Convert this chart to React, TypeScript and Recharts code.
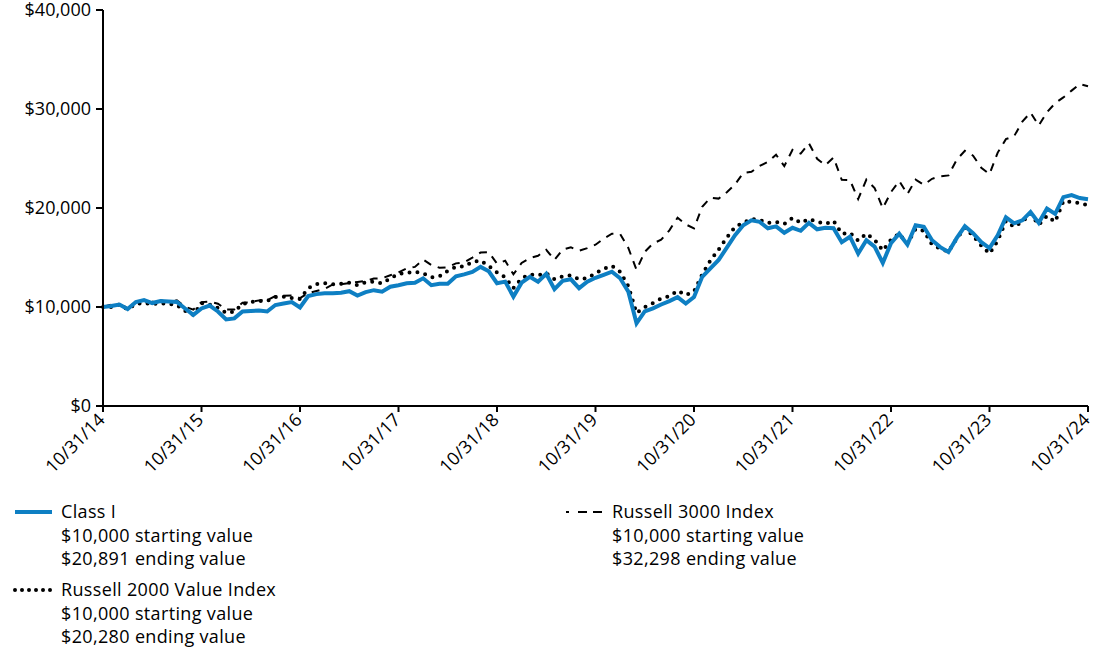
import React from "react";
import { LineChart, Line, XAxis, YAxis } from "recharts";

const tickLabels = ["10/31/14", "10/31/15", "10/31/16", "10/31/17", "10/31/18", "10/31/19", "10/31/20", "10/31/21", "10/31/22", "10/31/23", "10/31/24"];
const yTicks = [0, 10000, 20000, 30000, 40000];

const classI = [
  10000, 10100, 10250, 9800, 10500, 10700, 10400, 10600, 10550, 10500,
  9850, 9200, 9850, 10150, 9550, 8750, 8850, 9550, 9600, 9650,
  9550, 10200, 10350, 10500, 9950, 11100, 11300, 11400, 11400, 11450,
  11600, 11150, 11500, 11700, 11550, 12050, 12200, 12400, 12450, 12900,
  12200, 12350, 12350, 13100, 13300, 13550, 14050, 13600, 12400, 12560,
  11050, 12450, 13050, 12560, 13350, 11800, 12650, 12800, 11900, 12550,
  12950, 13250, 13570, 12900, 11550, 8350, 9550, 9870, 10250, 10600,
  11000, 10350, 11000, 13050, 13900, 14750, 16000, 17250, 18250, 18750,
  18600, 17950, 18150, 17500, 18000, 17700, 18500, 17850, 18000, 17950,
  16550, 17100, 15400, 16750, 16100, 14450, 16450, 17400, 16300, 18250,
  18100, 16750, 16050, 15550, 16950, 18150, 17450, 16550, 15950, 17250,
  19050, 18450, 18750, 19600, 18500, 19950, 19400, 21100, 21300, 21000,
  20891,
];

const russell2000Value = [
  10000, 10000, 10250, 9750, 10300, 10400, 10300, 10400, 10300, 10200,
  9600, 9200, 10400, 10250, 9900, 9400, 9550, 10300, 10500, 10600,
  10600, 11000, 11050, 10900, 10800, 11900, 12300, 12400, 12300, 12350,
  12450, 12200, 12500, 12550, 12400, 12900, 13350, 13450, 13550, 13400,
  13000, 13100, 13650, 14050, 14100, 14550, 14700, 14150, 13500, 13000,
  11900, 12900, 13300, 13200, 13400, 12800, 13100, 13200, 12800, 12900,
  13400, 13850, 14150, 13550, 12100, 9400, 10000, 10400, 10850, 11100,
  11650, 11200, 11550, 13300, 14700, 15800, 17000, 18100, 18500, 18900,
  18800, 18500, 18600, 18400, 19000, 18500, 18900, 18600, 18400, 18700,
  17400, 17500, 16700, 17400, 16800, 15700, 16800, 17400, 16400, 17900,
  17700, 16300, 15900, 15600, 16900, 18000, 17200, 16200, 15400, 16700,
  18700, 18100, 18600, 19400, 18300, 19200, 18600, 20700, 20600, 20500,
  20280,
];

const russell3000 = [
  10000, 10234, 10230, 9940, 10511, 10506, 10543, 10685, 10499, 10672,
  10027, 9731, 10495, 10554, 10337, 9754, 9749, 10427, 10484, 10668,
  10683, 11106, 11134, 11151, 10900, 11390, 11618, 11839, 12277, 12289,
  12424, 12523, 12636, 12876, 12902, 13212, 13503, 13908, 14047, 14791,
  14244, 13959, 14015, 14407, 14508, 14987, 15496, 15527, 14378, 14666,
  13302, 14446, 14952, 15176, 15783, 14757, 15790, 16027, 15691, 15942,
  16293, 16912, 17402, 17385, 15959, 13757, 15573, 16414, 16791, 17748,
  19026, 18341, 17938, 20127, 21033, 20949, 21598, 22376, 23540, 23658,
  24249, 24661, 25376, 24234, 25882, 25494, 26539, 24973, 24324, 25102,
  22843, 22820, 20903, 22868, 22022, 19974, 21612, 22736, 21395, 22871,
  22345, 22948, 23200, 23293, 24877, 25773, 25283, 24070, 23420, 25598,
  26954, 27251, 28723, 29642, 28338, 29670, 30590, 31171, 31857, 32526,
  32298,
];

const data = classI.map((v, i) => ({
  i,
  classI: v,
  r2000v: russell2000Value[i],
  r3000: russell3000[i],
}));

const xTicks = tickLabels.map((_, k) => k * 12);

const FONT = "'Open Sans', 'Noto Sans', sans-serif";
const BLUE = "#0e7fc3";

const XTick = (props: any) => {
  const { x, y, payload } = props;
  const label = tickLabels[Math.round(payload.value / 12)];
  return (
    <g transform={`translate(${x + 3},${y + 7})`}>
      <text x={0} y={0} textAnchor="end" transform="rotate(-45)" fontSize={18} fontFamily={FONT} fill="#000">
        {label}
      </text>
    </g>
  );
};

const fmt = (v: number) => "$" + v.toLocaleString("en-US");

const legendText: React.CSSProperties = {
  position: "absolute",
  fontFamily: FONT,
  fontSize: 18,
  letterSpacing: "0.35px",
  lineHeight: "23.5px",
  color: "#000",
  whiteSpace: "nowrap",
};

export default function App() {
  return (
    <div style={{ position: "absolute", left: 0, top: 0, width: 1100, height: 653, background: "#fff", overflow: "hidden" }}>
      <LineChart width={1100} height={490} data={data} margin={{ top: 10, right: 12, left: 0, bottom: 0 }}>
        <XAxis
          dataKey="i"
          type="number"
          domain={[0, 120]}
          ticks={xTicks}
          interval={0}
          height={84}
          tick={<XTick />}
          tickSize={6}
          axisLine={{ stroke: "#000", strokeWidth: 2 }}
          tickLine={{ stroke: "#000", strokeWidth: 2 }}
        />
        <YAxis
          domain={[0, 40000]}
          ticks={yTicks}
          width={103}
          tickFormatter={fmt}
          tickSize={7}
          tickMargin={5}
          interval={0}
          axisLine={{ stroke: "#000", strokeWidth: 2 }}
          tickLine={{ stroke: "#000", strokeWidth: 2 }}
          tick={{ fontSize: 18, fontFamily: FONT, fill: "#000" }}
        />
        <Line type="linear" dataKey="r3000" stroke="#000" strokeWidth={2} strokeDasharray="8 7" dot={false} isAnimationActive={false} />
        <Line type="linear" dataKey="r2000v" stroke="#000" strokeWidth={4} strokeDasharray="0 8" strokeLinecap="round" dot={false} isAnimationActive={false} />
        <Line type="linear" dataKey="classI" stroke={BLUE} strokeWidth={4} dot={false} isAnimationActive={false} />
      </LineChart>

      <svg style={{ position: "absolute", left: 0, top: 490 }} width={1100} height={130}>
        <line x1={15} y1={22} x2={52} y2={22} stroke={BLUE} strokeWidth={4} />
        <line x1={15} y1={100} x2={52} y2={100} stroke="#000" strokeWidth={4} strokeDasharray="0 7" strokeLinecap="round" />
        <line x1={566} y1={22} x2={569} y2={22} stroke="#000" strokeWidth={2} />
        <line x1={578} y1={22} x2={587} y2={22} stroke="#000" strokeWidth={2} />
        <line x1={593} y1={22} x2={602} y2={22} stroke="#000" strokeWidth={2} />
      </svg>

      <div style={{ ...legendText, left: 61, top: 500 }}>
        <div>Class I</div>
        <div>$10,000 starting value</div>
        <div>$20,891 ending value</div>
      </div>
      <div style={{ ...legendText, left: 61, top: 578 }}>
        <div>Russell 2000 Value Index</div>
        <div>$10,000 starting value</div>
        <div>$20,280 ending value</div>
      </div>
      <div style={{ ...legendText, left: 612, top: 500 }}>
        <div>Russell 3000 Index</div>
        <div>$10,000 starting value</div>
        <div>$32,298 ending value</div>
      </div>
    </div>
  );
}
